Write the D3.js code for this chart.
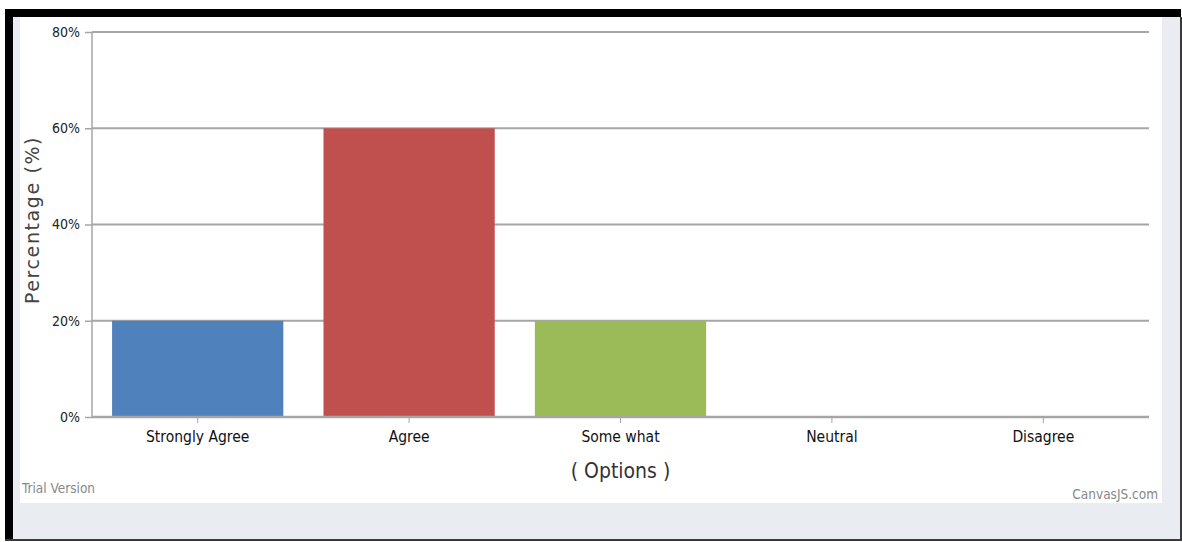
<!DOCTYPE html>
<html><head><meta charset="utf-8">
<script src="https://cdn.jsdelivr.net/npm/d3@7"></script>
<style>
html,body{margin:0;padding:0;background:#fff;}
svg{display:block;}
text{font-family:"DejaVu Sans Condensed","DejaVu Sans",sans-serif;}
</style></head><body>
<svg id="c" width="1182" height="542"></svg>
<script>
const categories = ["Strongly Agree","Agree","Some what","Neutral","Disagree"];
const values = [20, 60, 20, 0, 0];
const barColors = ["#4F81BC","#C0504E","#9BBB58","#23BFAA","#8064A1"];
const yTicks = [0, 20, 40, 60, 80];

const svg = d3.select("#c");
// frame
svg.append("rect").attr("x",0).attr("y",0).attr("width",1182).attr("height",542).attr("fill","#fff");
svg.append("rect").attr("x",5).attr("y",9).attr("width",1176).attr("height",531).attr("fill","#E9EDF2");
svg.append("rect").attr("x",5).attr("y",9).attr("width",1176).attr("height",8).attr("fill","#000");
svg.append("rect").attr("x",5).attr("y",9).attr("width",8).attr("height",531).attr("fill","#000");
svg.append("rect").attr("x",5).attr("y",539).attr("width",1176).attr("height",2).attr("fill","#3a3a3a");
svg.append("rect").attr("x",1180).attr("y",17).attr("width",2).attr("height",524).attr("fill","#3a3a3a");
svg.append("rect").attr("x",20).attr("y",17).attr("width",1142).attr("height",486).attr("fill","#fff");

const x = d3.scaleBand().domain(categories).range([92,1149]).paddingInner(0.19).paddingOuter(0.095);
const y = d3.scaleLinear().domain([0,80]).range([417,32]);

// gridlines
svg.append("g").selectAll("line").data(yTicks.filter(d=>d>0)).join("line")
  .attr("x1",92).attr("x2",1149).attr("y1",d=>y(d)).attr("y2",d=>y(d))
  .attr("stroke","#A6A6A6").attr("stroke-width",2);

// bars
svg.append("g").selectAll("rect").data(values).join("rect")
  .attr("x",(d,i)=>x(categories[i])).attr("width",x.bandwidth())
  .attr("y",d=>y(d)).attr("height",d=>y(0)-y(d))
  .attr("fill",(d,i)=>barColors[i]);

// y axis
const ya = svg.append("g").attr("transform","translate(92,0)")
  .call(d3.axisLeft(y).tickValues(yTicks).tickFormat(d=>d+"%").tickSize(7).tickPadding(5));
ya.select(".domain").attr("stroke","#A6A6A6").attr("stroke-width",1.5).attr("d","M0,32V417");
ya.selectAll(".tick line").attr("stroke","#A6A6A6").attr("stroke-width",1.5);
ya.selectAll(".tick text").attr("fill","#222").style("font-size","14px").style("font-family","'DejaVu Sans Condensed',sans-serif");

// x axis
const xa = svg.append("g").attr("transform","translate(0,417)")
  .call(d3.axisBottom(x).tickSize(6).tickPadding(8));
xa.select(".domain").attr("stroke","#A6A6A6").attr("stroke-width",2.5).attr("d","M92,0H1149");
xa.selectAll(".tick line").attr("stroke","#A6A6A6").attr("stroke-width",1);
xa.selectAll(".tick text").attr("fill","#111").style("font-size","15.5px").style("font-family","'DejaVu Sans Condensed',sans-serif");

// titles
svg.append("text").attr("x",620.5).attr("y",478).attr("text-anchor","middle")
  .attr("fill","#333").style("font-size","21px").text("( Options )");
svg.append("text").attr("transform","translate(39,220) rotate(-90)").attr("text-anchor","middle")
  .attr("fill","#444").style("font-size","19px").style("font-family","'DejaVu Sans',sans-serif").style("letter-spacing","1.6px").text("Percentage (%)");

svg.append("text").attr("x",22).attr("y",493).attr("fill","#888").style("font-size","13.5px").text("Trial Version");
svg.append("text").attr("x",1158).attr("y",499).attr("text-anchor","end").attr("fill","#888").style("font-size","13.5px").text("CanvasJS.com");
</script>
</body></html>
